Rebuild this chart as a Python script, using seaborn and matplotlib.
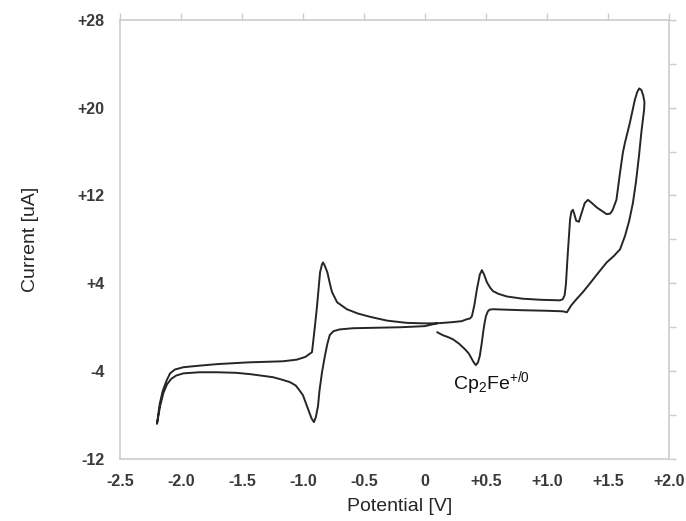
import numpy as np
import pandas as pd
import matplotlib
matplotlib.use("Agg")
import matplotlib.pyplot as plt
import seaborn as sns

# cyclic voltammogram
# scan 1: start at +0.1 V, going negative
scan1_v = [0.10, 0.00, -0.20, -0.40, -0.59, -0.70, -0.75, -0.78, -0.80, -0.82, -0.844, -0.865,
           -0.877, -0.895, -0.91, -0.93, -0.967, -1.0, -1.025, -1.06, -1.107, -1.18, -1.246,
           -1.35, -1.434, -1.55, -1.705, -1.85, -1.98, -2.04, -2.08, -2.115, -2.145, -2.172, -2.197]
scan1_i = [0.36, 0.10, 0.00, -0.05, -0.09, -0.2, -0.36, -0.7, -1.5, -2.6, -4.1, -5.8,
           -7.2, -8.2, -8.64, -8.3, -7.2, -6.2, -5.8, -5.3, -5.0, -4.75, -4.55,
           -4.4, -4.27, -4.15, -4.1, -4.1, -4.2, -4.4, -4.7, -5.2, -6.0, -7.2, -8.8]

# scan 2: back to +1.8 V
scan2_v = [-2.197, -2.175, -2.15, -2.12, -2.09, -2.05, -1.98, -1.85, -1.705, -1.45, -1.164,
           -1.05, -0.98, -0.955, -0.926, -0.905, -0.885, -0.86, -0.845, -0.836, -0.825, -0.80,
           -0.78, -0.762, -0.72, -0.64, -0.55, -0.45, -0.31, -0.15, 0.0, 0.10, 0.21, 0.30,
           0.344, 0.37, 0.385, 0.405, 0.426, 0.45, 0.467, 0.485, 0.508, 0.535, 0.557, 0.6,
           0.672, 0.8, 0.95, 1.107, 1.13, 1.145, 1.156, 1.17, 1.19, 1.20, 1.213, 1.225, 1.24,
           1.262, 1.285, 1.31, 1.336, 1.36, 1.41, 1.45, 1.49, 1.52, 1.54, 1.57, 1.60, 1.623,
           1.64, 1.68, 1.721, 1.74, 1.757, 1.775, 1.79, 1.80]
scan2_i = [-8.8, -7.0, -5.8, -4.9, -4.2, -3.85, -3.64, -3.5, -3.36, -3.2, -3.1,
           -2.95, -2.7, -2.5, -2.27, -0.2, 1.9, 5.0, 5.7, 5.9, 5.7, 5.0,
           4.0, 3.2, 2.27, 1.64, 1.25, 0.95, 0.6, 0.4, 0.35, 0.36, 0.45, 0.55,
           0.73, 0.8, 1.0, 2.0, 3.45, 4.8, 5.2, 4.8, 4.1, 3.6, 3.3, 3.05,
           2.8, 2.6, 2.5, 2.45, 2.55, 2.9, 3.9, 6.5, 9.8, 10.5, 10.7, 10.3, 9.7,
           9.6, 10.4, 11.3, 11.6, 11.4, 10.9, 10.6, 10.3, 10.35, 10.7, 11.6, 14.1, 15.9,
           16.8, 18.6, 20.7, 21.4, 21.75, 21.6, 21.1, 20.5]

# scan 3: return from +1.8 V, ending at +0.1 V
scan3_v = [1.80, 1.797, 1.787, 1.775, 1.755, 1.73, 1.705, 1.675, 1.64, 1.60, 1.55, 1.49,
           1.41, 1.35, 1.295, 1.246, 1.20, 1.164, 1.13, 1.0, 0.8, 0.65, 0.557, 0.53, 0.516,
           0.50, 0.49, 0.478, 0.467, 0.45, 0.435, 0.418, 0.40, 0.385, 0.36, 0.328, 0.28,
           0.23, 0.19, 0.148, 0.10]
scan3_i = [20.5, 19.8, 18.9, 17.8, 15.6, 13.2, 11.3, 9.7, 8.3, 7.1, 6.5, 5.9,
           4.8, 3.95, 3.2, 2.6, 2.0, 1.36, 1.45, 1.5, 1.55, 1.6, 1.64, 1.6, 1.45,
           1.0, 0.45, -0.4, -1.36, -2.6, -3.2, -3.45, -3.2, -2.9, -2.4, -2.0, -1.5,
           -1.1, -0.9, -0.73, -0.45]

x_ticks = [-2.5, -2.0, -1.5, -1.0, -0.5, 0.0, 0.5, 1.0, 1.5, 2.0]
x_labels = ['-2.5', '-2.0', '-1.5', '-1.0', '-0.5', '0', '+0.5', '+1.0', '+1.5', '+2.0']
y_ticks = [-12, -8, -4, 0, 4, 8, 12, 16, 20, 24, 28]
y_labels = ['-12', '', '-4', '', '+4', '', '+12', '', '+20', '', '+28']

df = pd.DataFrame({
    'potential': scan1_v + scan2_v + scan3_v,
    'current': scan1_i + scan2_i + scan3_i,
})

sns.set_style('white')
plt.rcParams['font.family'] = ['Liberation Sans', 'DejaVu Sans']
plt.rcParams['mathtext.default'] = 'regular'

fig = plt.figure(figsize=(6.86, 5.21), dpi=100)
ax = fig.add_axes([0.175, 0.119, 0.800, 0.843])

sns.lineplot(data=df, x='potential', y='current', sort=False, estimator=None,
             color='#262626', linewidth=1.4, ax=ax)

ax.set_xlim(-2.5, 2.0)
ax.set_ylim(-12, 28)
ax.set_xticks(x_ticks)
ax.set_xticklabels(x_labels)
ax.set_yticks(y_ticks)
ax.set_yticklabels(y_labels)

for s in ax.spines.values():
    s.set_color('#cccccc')
    s.set_linewidth(1.2)
ax.tick_params(axis='both', direction='out', length=5, width=1, color='#cccccc',
               top=True, right=True, labeltop=False, labelright=False,
               labelcolor='#3a3a3a', labelsize=11.5, pad=6)
for lab in ax.get_xticklabels() + ax.get_yticklabels():
    lab.set_fontweight('bold')

ax.set_xlabel('Potential [V]', fontsize=14)
ax.set_ylabel('Current [uA]', fontsize=14)
ax.xaxis.set_label_coords(0.51, -0.088)
ax.yaxis.set_label_coords(-0.148, 0.5)

ax.text(0.23, -5.64, r'Cp$_2$Fe$^{+/0}$', fontsize=14, color='#111111')

fig.savefig('out.png', dpi=100)
